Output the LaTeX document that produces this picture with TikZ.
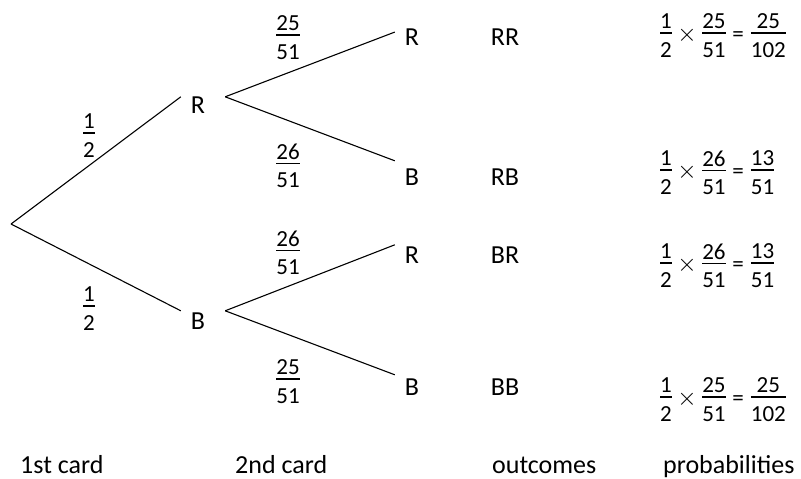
\documentclass[tikz,border=0pt]{standalone}
\usepackage{fontspec}
\setmainfont{Carlito}
\usetikzlibrary{positioning}

% stacked fraction in the text font: numerator, bar, denominator
\newcommand{\fr}[2]{\ensuremath{\vcenter{\baselineskip=0pt\lineskip=0pt\lineskiplimit=0pt
  \halign{\hfil##\hfil\cr #1\cr\noalign{\kern3.5pt\hrule height 1.4pt\kern8.5pt}#2\cr}}}}
% one product row: a/b x c/d = e/f
\newcommand{\prodrow}[6]{\ensuremath{\fr{#1}{#2}\times\fr{#3}{#4}\mathrel{\hbox{=}}\fr{#5}{#6}}}

\begin{document}
\begin{tikzpicture}[x=1pt, y=-1pt,
  every node/.style={font=\fontsize{26}{30}\selectfont},
  card/.style={minimum width=34pt, minimum height=20pt, inner sep=0pt},
  frac/.style={inner sep=0pt, font=\fontsize{23}{27}\selectfont},
  result/.style={frac, anchor=west},
  branch/.style={line width=1.1pt},
  caption/.style={anchor=base west, inner sep=0pt}]

  \useasboundingbox (0,0) rectangle (801,479);

  \coordinate (start) at (11,224);

  % 1st card
  \node[card] (R) at (198,105) {R};
  \node[card] (B) at (198,321) {B};

  % 2nd card
  \node[card] (RR) at (412,37) {R};
  \node[card] (RB) at (412,177) {B};
  \node[card] (BR) at (412,255) {R};
  \node[card] (BB) at (412,387) {B};

  \draw[branch] (start) -- ([yshift=-2pt]R.north west);
  \draw[branch] (start) -- (B.north west);
  \draw[branch] ([xshift=10pt,yshift=-2pt]R.north east) -- (RR.164);
  \draw[branch] ([xshift=10pt,yshift=-2pt]R.north east) -- ([yshift=6pt]RB.north west);
  \draw[branch] ([xshift=10pt]B.north east) -- (BR.north west);
  \draw[branch] ([xshift=10pt]B.north east) -- ([yshift=2pt]BB.north west);

  % branch probabilities
  \node[frac] (pR)  at (89,135.5)  {\fr{1}{2}};
  \node[frac] (pB)  at (89,308.5)  {\fr{1}{2}};
  \node[frac] (pRR) at (288,37.5)  {\fr{25}{51}};
  \node[frac] (pRB) at (288,165.5) {\fr{26}{51}};
  \node[frac] (pBR) at (288,252.5) {\fr{26}{51}};
  \node[frac] (pBB) at (288,381.5) {\fr{25}{51}};

  % outcomes
  \node[card] (oRR) at (505,37)  {RR};
  \node[card] (oRB) at (505,177) {RB};
  \node[card] (oBR) at (505,255) {BR};
  \node[card] (oBB) at (505,387) {BB};

  % probabilities
  \node[result] (qRR) at (660,35.5)  {\prodrow{1}{2}{25}{51}{25}{102}};
  \node[result] (qRB) at (660,172.5) {\prodrow{1}{2}{26}{51}{13}{51}};
  \node[result] (qBR) at (660,265.5) {\prodrow{1}{2}{26}{51}{13}{51}};
  \node[result] (qBB) at (660,399.5) {\prodrow{1}{2}{25}{51}{25}{102}};

  % column captions
  \node[caption] (c1) at (20,473)  {1st card};
  \node[caption] (c2) at (235,473) {2nd card};
  \node[caption] (c3) at (492,473) {outcomes};
  \node[caption] (c4) at (663,473) {probabilities};
\end{tikzpicture}
\end{document}
